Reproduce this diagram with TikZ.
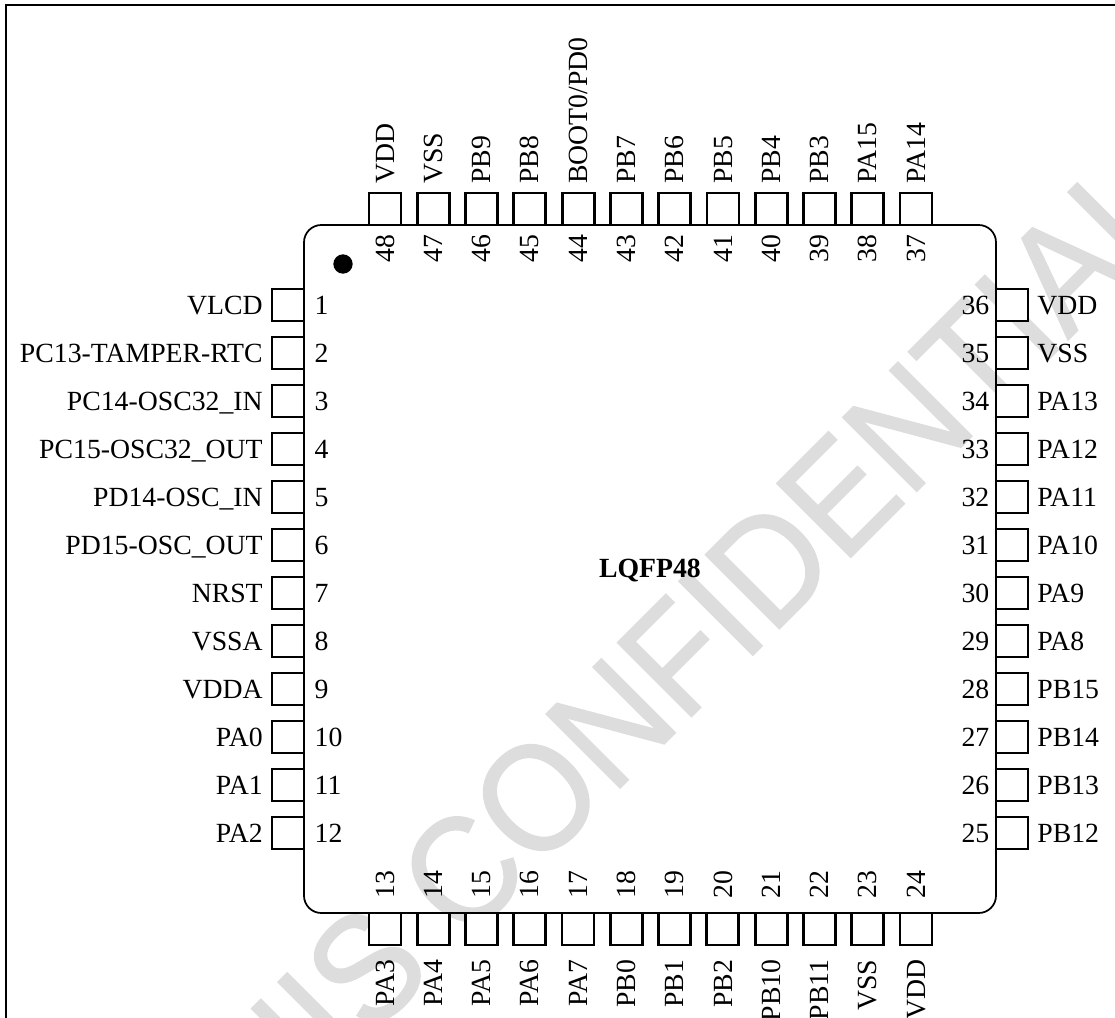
\documentclass[tikz,border=0pt]{standalone}
\usepackage{fontspec}
\setmainfont{Liberation Serif}
\newfontfamily\markfont[FakeStretch=0.92,FakeBold=1]{Liberation Sans}
\definecolor{markgray}{RGB}{221,221,221}
\begin{document}
\begin{tikzpicture}[x=0.75pt,y=-0.75pt,every node/.style={font=\fontsize{20.8}{24}\selectfont,inner sep=0pt,outer sep=0pt,text height=13.7pt,text depth=0pt}]
\useasboundingbox (0,0) rectangle (1115,1018);

% watermark
\begin{scope}
    \clip (0,0) rectangle (1115,1018);
    \node[rotate=45,anchor=base west,text=markgray,font=\markfont\fontsize{114}{136}\selectfont,text height=82pt] (mark) at (211,1197) {THIS CONFIDENTIAL};
\end{scope}

% outer frame, runs off the page
\draw[line width=1.7pt] (6,1030) -- (6,5) -- (1130,5);

% package
\node[draw,line width=1.3pt,rounded corners=13pt,minimum width=519pt,minimum height=516pt] (chip) at (650,569) {};
\node[font=\bfseries\fontsize{20.8}{24}\selectfont] (title) at (650,568) {LQFP48};
\node[circle,fill=black,minimum size=14.5pt,text height=0pt] (dot) at (343,264) {};

\begin{scope}[every node/.append style={draw,fill=white,line width=2.1pt,minimum size=24pt,text height=0pt}]
    \foreach \n in {1,...,12} \node (p\n) at (288,257+48*\n) {};
    \foreach \n in {13,...,24} \node (p\n) at (385+48.27*\n-627.51,929) {};
    \foreach \n in {25,...,36} \node (p\n) at (1012,833-48*\n+1200) {};
    \foreach \n in {37,...,48} \node (p\n) at (916-48.27*\n+1786,209) {};
\end{scope}

% pin names and numbers
\foreach \n/\t in {1/VLCD,2/PC13-TAMPER-RTC,3/PC14-OSC32\_IN,4/PC15-OSC32\_OUT,5/PD14-OSC\_IN,6/PD15-OSC\_OUT,7/NRST,8/VSSA,9/VDDA,10/PA0,11/PA1,12/PA2}{
    \node[anchor=east] (t\n) at ([xshift=-7pt]p\n.west) {\t};
    \node[anchor=west] (m\n) at ([xshift=8pt]p\n.east) {\n};
}
\foreach \n/\t in {13/PA3,14/PA4,15/PA5,16/PA6,17/PA7,18/PB0,19/PB1,20/PB2,21/PB10,22/PB11,23/VSS,24/VDD}{
    \node[anchor=east,rotate=90] (t\n) at ([yshift=-11pt]p\n.south) {\t};
    \node[anchor=west,rotate=90] (m\n) at ([yshift=11pt]p\n.north) {\n};
}
\foreach \n/\t in {25/PB12,26/PB13,27/PB14,28/PB15,29/PA8,30/PA9,31/PA10,32/PA11,33/PA12,34/PA13,35/VSS,36/VDD}{
    \node[anchor=west] (t\n) at ([xshift=7pt]p\n.east) {\t};
    \node[anchor=east] (m\n) at ([xshift=-5pt]p\n.west) {\n};
}
\foreach \n/\t in {37/PA14,38/PA15,39/PB3,40/PB4,41/PB5,42/PB6,43/PB7,44/{BOOT0/PD0},45/PB8,46/PB9,47/VSS,48/VDD}{
    \node[anchor=west,rotate=90] (t\n) at ([yshift=7pt]p\n.north) {\t};
    \node[anchor=east,rotate=90] (m\n) at ([yshift=-7pt]p\n.south) {\n};
}
\end{tikzpicture}
\end{document}
